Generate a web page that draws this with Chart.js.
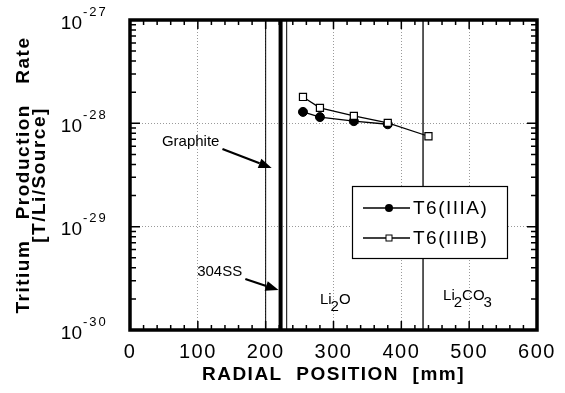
<!DOCTYPE html>
<html>
<head>
<meta charset="utf-8">
<title>Tritium Production Rate</title>
<script src="https://cdn.jsdelivr.net/npm/chart.js@4.4.1/dist/chart.umd.min.js"></script>
<style>
  html, body { margin: 0; padding: 0; background: #fff; }
  #wrap { width: 565px; height: 393px; }
</style>
</head>
<body>
<div id="wrap"><canvas id="c" width="565" height="393"></canvas></div>
<script>
// Radial position [mm] and tritium production rate [T/Li/Source]
const radialA = [255, 280, 330, 380];
const rateA   = [1.29e-28, 1.15e-28, 1.05e-28, 0.98e-28];
const radialB = [255, 280, 330, 380, 440];
const rateB   = [1.80e-28, 1.41e-28, 1.18e-28, 1.01e-28, 7.5e-29];
const seriesNames = ['T6(IIIA)', 'T6(IIIB)'];

// Axis ticks
const xTicks = [0, 100, 200, 300, 400, 500, 600];
const yTickExponents = [-30, -29, -28, -27];

// Material boundaries along the radius [mm]
const boundaries = [200, 222, 231, 432];

const FONT = "'Liberation Sans', Arial, Helvetica, sans-serif";
Chart.defaults.font.family = FONT;
Chart.defaults.color = '#000';

const boundaryWidth = { 200: 1, 222: 4, 231: 1, 432: 1.3 };
const pts = (xs, ys) => xs.map((x, i) => ({ x, y: ys[i] }));

const datasets = [
  {
    label: seriesNames[0], data: pts(radialA, rateA),
    borderColor: '#000', borderWidth: 1.3, pointStyle: 'circle', pointRadius: 4.5,
    pointBackgroundColor: '#000', pointBorderColor: '#000', pointBorderWidth: 1, order: 1
  },
  {
    label: seriesNames[1], data: pts(radialB, rateB),
    borderColor: '#000', borderWidth: 1.3, pointStyle: 'rect', pointRadius: 5,
    pointBackgroundColor: '#fff', pointBorderColor: '#000', pointBorderWidth: 1.2, order: 0
  },
  ...boundaries.map(b => ({
    label: '', data: [{ x: b, y: 1e-30 }, { x: b, y: 1e-27 }],
    borderColor: '#000', borderWidth: boundaryWidth[b], pointRadius: 0, order: 5
  }))
];

// Wider tracking for the axis text
const tracking = {
  id: 'tracking',
  beforeDraw(chart) { chart.ctx.letterSpacing = '1.5px'; }
};

// Frame, inside tick marks, exponent tick labels, annotations and legend box
const decor = {
  id: 'decor',
  afterDatasetsDraw(chart) {
    const { ctx, chartArea: ca, scales: { x: xs, y: ys } } = chart;
    const P = (mm, lg) => [xs.getPixelForValue(mm), ys.getPixelForValue(Math.pow(10, lg))];
    ctx.save();
    ctx.letterSpacing = '0px';
    ctx.strokeStyle = '#000';
    ctx.fillStyle = '#000';

    // inside ticks
    ctx.lineWidth = 1.5;
    ctx.beginPath();
    for (let v = 0; v <= 600; v += 20) {
      const px = xs.getPixelForValue(v);
      const len = v % 100 === 0 ? 9 : 5;
      ctx.moveTo(px, ca.bottom); ctx.lineTo(px, ca.bottom - len);
      ctx.moveTo(px, ca.top); ctx.lineTo(px, ca.top + len);
    }
    for (let d = -30; d < -27; d++) {
      for (let k = 1; k <= 9; k++) {
        const py = ys.getPixelForValue(k * Math.pow(10, d));
        const len = k === 1 ? 10 : 6;
        ctx.moveTo(ca.left, py); ctx.lineTo(ca.left + len, py);
        ctx.moveTo(ca.right, py); ctx.lineTo(ca.right - len, py);
      }
    }
    ctx.stroke();

    // arrows
    const arrow = (a, b) => {
      const [x1, y1] = a, [x2, y2] = b;
      const ang = Math.atan2(y2 - y1, x2 - x1);
      const hl = 13, hw = 5;
      const bx = x2 - hl * Math.cos(ang), by = y2 - hl * Math.sin(ang);
      ctx.lineWidth = 2.2;
      ctx.beginPath(); ctx.moveTo(x1, y1); ctx.lineTo(bx, by); ctx.stroke();
      ctx.beginPath();
      ctx.moveTo(x2, y2);
      ctx.lineTo(bx + hw * Math.sin(ang), by - hw * Math.cos(ang));
      ctx.lineTo(bx - hw * Math.sin(ang), by + hw * Math.cos(ang));
      ctx.closePath(); ctx.fill();
    };

    ctx.font = '15px ' + FONT;
    ctx.textAlign = 'left';
    ctx.textBaseline = 'alphabetic';
    let p = P(47, -28.219);
    ctx.fillText('Graphite', p[0], p[1]);
    arrow(P(136.3, -28.248), P(208.9, -28.432));

    p = P(99, -29.477);
    ctx.fillText('304SS', p[0], p[1]);
    arrow(P(170, -29.507), P(219, -29.613));

    // chemical formulas with lowered subscripts
    const formula = (parts, at) => {
      let [x0, y0] = at;
      parts.forEach(([t, sub]) => {
        ctx.fillText(t, x0, y0 + (sub ? 7 : 0));
        x0 += ctx.measureText(t).width + (sub ? 0 : -1);
      });
    };
    formula([['Li'], ['2', 1], ['O']], P(280, -29.748));
    formula([['Li'], ['2', 1], ['CO'], ['3', 1]], P(461.5, -29.71));

    // y tick labels as powers of ten
    yTickExponents.forEach(e => {
      const py = ys.getPixelForValue(Math.pow(10, e));
      ctx.font = '19px ' + FONT;
      ctx.textAlign = 'right';
      ctx.fillText('10', 82, py + 8.5);
      ctx.font = '13px ' + FONT;
      ctx.textAlign = 'left';
      ctx.letterSpacing = '2px';
      ctx.fillText('-' + Math.abs(e), 83, py - 4.5);
      ctx.letterSpacing = '0px';
    });

    // legend box
    const lx = ca.left + 222, ly = ca.top + 166, lw = 155, lh = 72;
    ctx.fillStyle = '#fff';
    ctx.fillRect(lx, ly, lw, lh);
    ctx.lineWidth = 1.2;
    ctx.strokeRect(lx + 0.5, ly + 0.5, lw, lh);
    ctx.fillStyle = '#000';
    ctx.font = '19px ' + FONT;
    ctx.letterSpacing = '1.5px';
    ctx.textAlign = 'left';
    ctx.textBaseline = 'middle';
    seriesNames.forEach((name, i) => {
      const yy = ly + 22 + i * 30;
      ctx.lineWidth = 1.3;
      ctx.beginPath(); ctx.moveTo(lx + 11, yy); ctx.lineTo(lx + 58, yy); ctx.stroke();
      if (i === 0) {
        ctx.beginPath(); ctx.arc(lx + 37, yy, 4, 0, Math.PI * 2); ctx.fill();
      } else {
        ctx.fillStyle = '#fff';
        ctx.fillRect(lx + 34, yy - 3, 6, 6);
        ctx.lineWidth = 1;
        ctx.strokeRect(lx + 34, yy - 3, 6, 6);
        ctx.fillStyle = '#000';
      }
      ctx.fillText(name, lx + 61, yy + 1);
    });

    // plot frame
    ctx.lineWidth = 3.5;
    ctx.strokeRect(ca.left, ca.top, ca.width, ca.height);
    ctx.restore();
  }
};

new Chart(document.getElementById('c'), {
  type: 'line',
  data: { datasets },
  options: {
    responsive: false,
    animation: false,
    devicePixelRatio: 1,
    layout: { padding: { left: 0, right: 28, top: 20, bottom: 0 } },
    plugins: { legend: { display: false }, tooltip: { enabled: false } },
    scales: {
      x: {
        type: 'linear', min: 0, max: 600,
        afterBuildTicks: s => { s.ticks = xTicks.map(v => ({ value: v })); },
        afterFit: s => { s.height = 63; },
        grid: { color: '#9a9a9a', lineWidth: 1, drawTicks: false },
        border: { display: false, dash: [1, 2] },
        ticks: { color: '#000', font: { size: 20 }, padding: 10, maxRotation: 0, autoSkip: false },
        title: {
          display: true, text: 'RADIAL  POSITION  [mm]', color: '#000',
          font: { size: 19, weight: 'bold', lineHeight: 1 }, padding: { top: 0, bottom: 9 }
        }
      },
      y: {
        type: 'logarithmic', min: 1e-30, max: 1e-27,
        afterBuildTicks: s => { s.ticks = yTickExponents.map(e => ({ value: Math.pow(10, e) })); },
        afterFit: s => { s.width = 130; },
        grid: { color: '#9a9a9a', lineWidth: 1, drawTicks: false },
        border: { display: false, dash: [1, 2] },
        ticks: { display: false },
        title: {
          display: true, text: ['Tritium   Production   Rate', '[T/Li/Source]'], color: '#000',
          font: { size: 19, weight: 'bold', lineHeight: 0.85 }, padding: { top: 16, bottom: 0 }
        }
      }
    }
  },
  plugins: [tracking, decor]
});
</script>
</body>
</html>
